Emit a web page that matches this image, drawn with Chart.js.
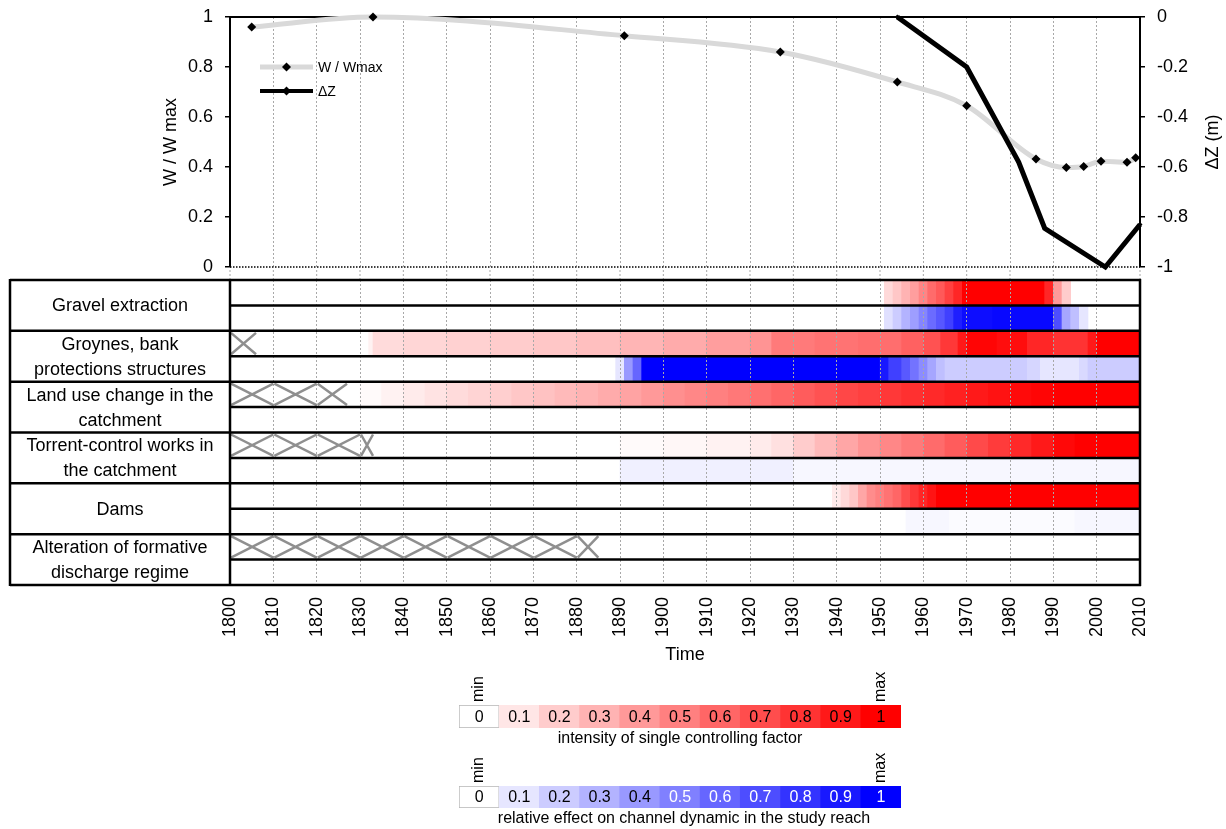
<!DOCTYPE html>
<html>
<head>
<meta charset="utf-8">
<script src="https://cdn.jsdelivr.net/npm/chart.js@4.4.1/dist/chart.umd.min.js"></script>
<style>
  html, body { margin: 0; padding: 0; background: #fff; overflow: hidden; }
  body { width: 1226px; height: 829px; position: relative; }
  .box { position: absolute; }
</style>
</head>
<body>
<div class="box" style="left:0;top:0"><canvas id="lineChart" width="1226" height="280"></canvas></div>
<div class="box" style="left:0;top:270px"><canvas id="heatChart" width="1226" height="400"></canvas></div>
<div class="box" style="left:440px;top:665px"><canvas id="redBar" width="480" height="87"></canvas></div>
<div class="box" style="left:440px;top:746px"><canvas id="blueBar" width="480" height="86"></canvas></div>
<script>
// --- dati del grafico superiore ---
const widthYears = [1805, 1833, 1891, 1927, 1954, 1970, 1986, 1993, 1997, 2001, 2007, 2009];
const widthRatio = [0.96, 1.0, 0.925, 0.86, 0.74, 0.645, 0.432, 0.398, 0.402, 0.423, 0.419, 0.437];
const dzYears = [1954, 1970, 1982, 1988, 2002, 2010];
const dzValues = [0, -0.2, -0.58, -0.845, -1.0, -0.83];

// --- fattori di controllo: ogni coppia [anno, valore] vale fino all'anno successivo ---
const factorNames = [
  ['Gravel extraction'],
  ['Groynes, bank', 'protections structures'],
  ['Land use change in the', 'catchment'],
  ['Torrent-control works in', 'the catchment'],
  ['Dams'],
  ['Alteration of formative', 'discharge regime']
];
const gravelIntensity = [[1951,0.15],[1953,0.22],[1955,0.3],[1957,0.38],[1959,0.48],[1961,0.58],[1963,0.65],[1965,0.75],[1967,0.85],[1969,1],[1988,0.85],[1990,0.4],[1992,0.2],[1994,null]];
const gravelEffect = [[1951,0.12],[1953,0.2],[1955,0.3],[1957,0.38],[1959,0.48],[1961,0.58],[1963,0.66],[1965,0.75],[1967,0.88],[1969,0.95],[1976,0.97],[1990,0.7],[1992,0.35],[1994,0.25],[1996,0.1],[1998,null]];
const groynesIntensity = [[1832,0.05],[1833,0.14],[1840,0.16],[1850,0.18],[1860,0.2],[1870,0.22],[1880,0.25],[1890,0.29],[1900,0.33],[1910,0.38],[1920,0.42],[1925,0.52],[1935,0.55],[1945,0.57],[1955,0.62],[1960,0.68],[1964,0.78],[1968,0.9],[1970,0.98],[1977,0.95],[1984,0.85],[1990,0.8],[1998,0.9],[2000,1],[2010,null]];
const groynesEffect = [[1889,0.1],[1891,0.4],[1893,0.6],[1895,1],[1950,0.9],[1952,0.75],[1955,0.65],[1957,0.55],[1959,0.45],[1961,0.35],[1963,0.25],[1965,0.2],[1984,0.16],[1987,0.1],[1996,0.15],[1998,0.2],[2010,null]];
const landIntensity = [[1830,0.02],[1835,0.05],[1840,0.08],[1845,0.11],[1850,0.14],[1855,0.17],[1860,0.19],[1865,0.22],[1870,0.24],[1875,0.27],[1880,0.3],[1885,0.33],[1890,0.36],[1895,0.4],[1900,0.44],[1905,0.47],[1910,0.5],[1915,0.53],[1920,0.56],[1925,0.6],[1930,0.64],[1935,0.68],[1940,0.72],[1945,0.75],[1950,0.78],[1955,0.81],[1960,0.84],[1965,0.87],[1970,0.9],[1975,0.93],[1980,0.96],[1985,0.98],[1990,1],[2010,null]];
const landEffect = [];
const torrentIntensity = [[1890,0.02],[1900,0.03],[1910,0.05],[1920,0.08],[1925,0.12],[1930,0.2],[1935,0.27],[1940,0.35],[1945,0.42],[1950,0.47],[1955,0.52],[1960,0.58],[1965,0.64],[1970,0.71],[1975,0.77],[1980,0.84],[1985,0.9],[1990,0.97],[1995,1],[2010,null]];
const torrentEffect = [[1890,0.06],[1930,0.03],[2010,null]];
const damsIntensity = [[1939,0.08],[1941,0.15],[1943,0.22],[1945,0.35],[1947,0.45],[1949,0.5],[1951,0.55],[1953,0.6],[1955,0.7],[1957,0.78],[1959,0.85],[1961,0.92],[1963,1],[2010,null]];
const damsEffect = [[1956,0.03],[1966,0.015],[1995,0.03],[2010,null]];
const dischargeIntensity = [];
const dischargeEffect = [];

// righe alternate: intensità (rosso) / effetto (blu)
const rowSeries = [gravelIntensity, gravelEffect, groynesIntensity, groynesEffect, landIntensity, landEffect,
                   torrentIntensity, torrentEffect, damsIntensity, damsEffect, dischargeIntensity, dischargeEffect];
const rowIds = rowSeries.map((_, i) => 'r' + i);

// periodi senza dati (croci grigie) : [riga, da, a]
const crossMarks = [
  [2,1800,1806],
  [4,1800,1810],[4,1810,1820],[4,1820,1827],
  [6,1800,1810],[6,1810,1820],[6,1820,1830],[6,1830,1833],
  [10,1800,1810],[10,1810,1820],[10,1820,1830],[10,1830,1840],[10,1840,1850],
  [10,1850,1860],[10,1860,1870],[10,1870,1880],[10,1880,1885]
];

// scala colori della legenda
const stepValues = [0, 0.1, 0.2, 0.3, 0.4, 0.5, 0.6, 0.7, 0.8, 0.9, 1];
const stepLabels = ['0', '0.1', '0.2', '0.3', '0.4', '0.5', '0.6', '0.7', '0.8', '0.9', '1'];

const FONT = "'Liberation Sans', Arial, Helvetica, sans-serif";
Chart.defaults.font.family = FONT;
Chart.defaults.color = '#000';

const redOf = v => { const c = Math.round(255 * (1 - v)); return `rgb(255,${c},${c})`; };
const blueOf = v => { const c = Math.round(255 * (1 - v)); return `rgb(${c},${c},255)`; };
const tickFmt = v => String(Math.round(v * 10) / 10);

// l'asse verticale non deve spostare l'area del grafico
const fixVertical = width => s => { s.width = width; s.paddingTop = 0; s.paddingBottom = 0; };

// ---------------- grafico superiore ----------------
const lineFrame = {
  id: 'lineFrame',
  beforeDatasetsDraw(chart) {
    const {ctx, chartArea: a} = chart;
    ctx.save();
    ctx.strokeStyle = '#000';
    ctx.lineWidth = 2;
    ctx.beginPath(); ctx.moveTo(a.left, a.top); ctx.lineTo(a.right, a.top); ctx.stroke();
    ctx.lineWidth = 1.5;
    ctx.setLineDash([1.5, 1.5]);
    ctx.beginPath(); ctx.moveTo(a.left, a.bottom); ctx.lineTo(a.right, a.bottom); ctx.stroke();
    ctx.restore();
  },
  afterDraw(chart) {
    const {ctx, chartArea: a} = chart;
    ctx.save();
    // titolo asse destro, letto dal basso verso l'alto
    ctx.font = '18px ' + FONT;
    ctx.fillStyle = '#000';
    ctx.textAlign = 'center';
    ctx.textBaseline = 'middle';
    ctx.translate(1213, (a.top + a.bottom) / 2);
    ctx.rotate(-Math.PI / 2);
    ctx.fillText('\u0394Z (m)', 0, 0);
    ctx.restore();

    // legenda interna
    const items = [
      {label: 'W / Wmax', color: '#d9d9d9', width: 5, y: a.top + 50},
      {label: '\u0394Z', color: '#000', width: 4, y: a.top + 74}
    ];
    ctx.save();
    ctx.font = '14px ' + FONT;
    ctx.textBaseline = 'middle';
    items.forEach(it => {
      const x0 = a.left + 30, x1 = a.left + 83, xm = (x0 + x1) / 2;
      ctx.strokeStyle = it.color; ctx.lineWidth = it.width;
      ctx.beginPath(); ctx.moveTo(x0, it.y); ctx.lineTo(x1, it.y); ctx.stroke();
      ctx.fillStyle = '#000';
      ctx.beginPath();
      ctx.moveTo(xm, it.y - 4.5); ctx.lineTo(xm + 4.5, it.y); ctx.lineTo(xm, it.y + 4.5); ctx.lineTo(xm - 4.5, it.y);
      ctx.closePath(); ctx.fill();
      ctx.fillText(it.label, x1 + 5, it.y + 1);
    });
    ctx.restore();
  }
};

new Chart(document.getElementById('lineChart'), {
  type: 'line',
  data: {
    datasets: [
      {
        label: '\u0394Z',
        data: dzYears.map((x, i) => ({x, y: dzValues[i]})),
        yAxisID: 'y2',
        borderColor: '#000',
        borderWidth: 5,
        pointRadius: 2.5,
        pointStyle: 'rectRot',
        pointBackgroundColor: '#000',
        pointBorderWidth: 0,
        tension: 0,
        clip: false
      },
      {
        label: 'W / Wmax',
        data: widthYears.map((x, i) => ({x, y: widthRatio[i]})),
        yAxisID: 'y',
        borderColor: '#d9d9d9',
        borderWidth: 5,
        pointRadius: 4.5,
        pointStyle: 'rectRot',
        pointBackgroundColor: '#000',
        pointBorderColor: '#000',
        pointBorderWidth: 0,
        cubicInterpolationMode: 'monotone',
        clip: false
      }
    ]
  },
  options: {
    responsive: false,
    animation: false,
    events: [],
    layout: {autoPadding: false, padding: {left: 158, right: 0, top: 17, bottom: 13}},
    plugins: {legend: {display: false}, tooltip: {enabled: false}},
    scales: {
      x: {
        type: 'linear', min: 1800, max: 2010,
        ticks: {stepSize: 10, display: false},
        grid: {color: '#a8a8a8', lineWidth: 1, drawTicks: false},
        border: {display: false, dash: [2, 2]},
        afterFit: s => { s.height = 0; }
      },
      y: {
        position: 'left', min: 0, max: 1,
        ticks: {stepSize: 0.2, padding: 12, font: {size: 18}, color: '#000', callback: tickFmt},
        grid: {drawOnChartArea: false, color: '#000', tickLength: 5, lineWidth: 1.5},
        border: {display: true, color: '#000', width: 2},
        title: {display: true, text: 'W / W max', font: {size: 18}, color: '#000', padding: {top: 2, bottom: 0}},
        afterFit: fixVertical(72)
      },
      y2: {
        position: 'right', min: -1, max: 0,
        ticks: {stepSize: 0.2, padding: 12, font: {size: 18}, color: '#000', callback: tickFmt},
        grid: {drawOnChartArea: false, color: '#000', tickLength: 5, lineWidth: 1.5},
        border: {display: true, color: '#000', width: 2},
        afterFit: fixVertical(86)
      }
    }
  },
  plugins: [lineFrame]
});

// ---------------- tabella dei fattori ----------------
const heatCells = [];
rowSeries.forEach((series, r) => {
  for (let i = 0; i < series.length - 1; i++) {
    const [from, v] = series[i];
    const to = series[i + 1][0];
    heatCells.push({x: [from, to], y: rowIds[r], v, blue: r % 2 === 1});
  }
});

const tablePlugin = {
  id: 'table',
  afterDraw(chart) {
    const {ctx, chartArea: a, scales: {x, y}} = chart;
    const rowH = (a.bottom - a.top) / rowIds.length;
    const boxLeft = 10;
    ctx.save();
    // la griglia continua nello spazio sopra la tabella
    ctx.strokeStyle = '#a8a8a8';
    ctx.lineWidth = 1;
    ctx.setLineDash([2, 2]);
    x.ticks.forEach(t => {
      const px = x.getPixelForValue(t.value);
      ctx.beginPath(); ctx.moveTo(px, 0); ctx.lineTo(px, a.top); ctx.stroke();
    });
    ctx.setLineDash([]);
    // croci grigie
    ctx.strokeStyle = '#8f8f8f';
    ctx.lineWidth = 2.5;
    crossMarks.forEach(([row, from, to]) => {
      const cy = y.getPixelForValue(row);
      const t = cy - rowH / 2 + 2, b = cy + rowH / 2 - 2;
      const x0 = x.getPixelForValue(from) + 1, x1 = x.getPixelForValue(to);
      ctx.beginPath();
      ctx.moveTo(x0, t); ctx.lineTo(x1, b);
      ctx.moveTo(x0, b); ctx.lineTo(x1, t);
      ctx.stroke();
    });
    // linee orizzontali
    ctx.strokeStyle = '#000';
    ctx.lineWidth = 2.5;
    for (let i = 0; i <= rowIds.length; i++) {
      const py = a.top + i * rowH;
      ctx.beginPath();
      ctx.moveTo(i % 2 === 0 ? boxLeft : a.left, py);
      ctx.lineTo(a.right + 1, py);
      ctx.stroke();
    }
    // linee verticali
    [boxLeft, a.left, a.right].forEach(px => {
      ctx.beginPath(); ctx.moveTo(px, a.top - 1); ctx.lineTo(px, a.bottom + 1); ctx.stroke();
    });
    // nomi dei fattori
    ctx.fillStyle = '#000';
    ctx.font = '18px ' + FONT;
    ctx.textAlign = 'center';
    ctx.textBaseline = 'middle';
    factorNames.forEach((lines, g) => {
      const cy = a.top + (2 * g + 1) * rowH;
      const cx = (boxLeft + a.left) / 2;
      lines.forEach((txt, k) => {
        ctx.fillText(txt, cx, cy + (k - (lines.length - 1) / 2) * 25 + 1);
      });
    });
    ctx.restore();
  }
};

new Chart(document.getElementById('heatChart'), {
  type: 'bar',
  data: {
    labels: rowIds,
    datasets: [{
      data: heatCells,
      backgroundColor: ctx => {
        const c = ctx.raw;
        if (!c) return 'transparent';
        return c.blue ? blueOf(c.v) : redOf(c.v);
      },
      borderWidth: 0,
      barPercentage: 1,
      categoryPercentage: 1,
      grouped: false
    }]
  },
  options: {
    indexAxis: 'y',
    responsive: false,
    animation: false,
    events: [],
    layout: {padding: {left: 230, right: 86, top: 10, bottom: 0}},
    plugins: {legend: {display: false}, tooltip: {enabled: false}},
    scales: {
      x: {
        type: 'linear', min: 1800, max: 2010,
        ticks: {stepSize: 10, autoSkip: false, minRotation: 90, maxRotation: 90, padding: 12,
                font: {size: 18}, color: '#000', callback: v => String(v)},
        grid: {color: '#a8a8a8', lineWidth: 1, drawTicks: false, z: 1},
        border: {display: false, dash: [2, 2]},
        title: {display: true, text: 'Time', font: {size: 18}, color: '#000', padding: {top: 0, bottom: 4}},
        afterFit: s => { s.height = 85; }
      },
      y: {
        type: 'category',
        display: false
      }
    }
  },
  plugins: [tablePlugin]
});

// ---------------- legende dei colori ----------------
const cellLabels = {
  id: 'cellLabels',
  afterDatasetsDraw(chart, args, opts) {
    const {ctx, chartArea: a} = chart;
    const bars = chart.getDatasetMeta(0).data;
    ctx.save();
    ctx.font = '16px ' + FONT;
    ctx.textAlign = 'center';
    ctx.textBaseline = 'middle';
    bars.forEach((bar, i) => {
      ctx.fillStyle = opts.dark && stepValues[i] >= 0.5 ? '#fff' : '#000';
      ctx.fillText(stepLabels[i], bar.x, (a.top + a.bottom) / 2 + 1);
    });
    ctx.fillStyle = '#000';
    [[0, 'min'], [bars.length - 1, 'max']].forEach(([i, t]) => {
      ctx.save();
      ctx.translate(bars[i].x, a.top - 3);
      ctx.rotate(-Math.PI / 2);
      ctx.textAlign = 'left';
      ctx.fillText(t, 0, 0);
      ctx.restore();
    });
    ctx.fillText(opts.title, (a.left + a.right) / 2 + opts.shift, a.bottom + 11);
    ctx.restore();
  }
};

function colorBar(id, colorFn, title, dark, shift) {
  new Chart(document.getElementById(id), {
    type: 'bar',
    data: {
      labels: stepLabels,
      datasets: [{
        data: stepValues.map(() => 1),
        backgroundColor: stepValues.map(colorFn),
        borderColor: stepValues.map(v => v === 0 ? '#b5b5b5' : 'rgba(0,0,0,0)'),
        borderWidth: stepValues.map(v => v === 0 ? 1 : 0),
        borderSkipped: false,
        barPercentage: 1,
        categoryPercentage: 1
      }]
    },
    options: {
      responsive: false,
      animation: false,
      events: [],
      layout: {padding: {left: 19, right: 19, top: 40, bottom: 24}},
      plugins: {legend: {display: false}, tooltip: {enabled: false},
                cellLabels: {title, dark, shift}},
      scales: {
        x: {display: false},
        y: {display: false, min: 0, max: 1}
      }
    },
    plugins: [cellLabels]
  });
}

colorBar('redBar', redOf, 'intensity of single controlling factor', false, 0);
colorBar('blueBar', blueOf, 'relative effect on channel dynamic in the study reach', true, 4);
</script>
</body>
</html>
